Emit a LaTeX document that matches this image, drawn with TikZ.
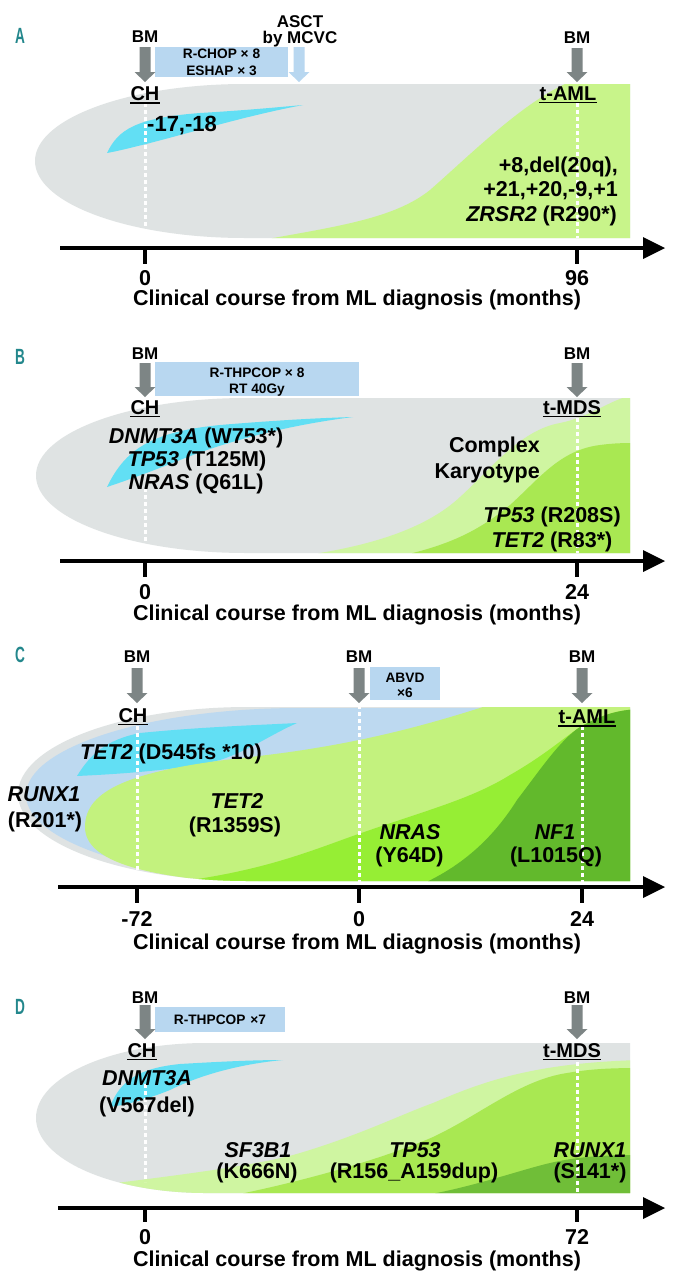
\documentclass[tikz,border=0pt]{standalone}
\usepackage{fontspec}
\setmainfont{Liberation Sans}
\definecolor{grayc}{HTML}{DFE3E3}
\definecolor{cyanc}{HTML}{62DFF4}
\definecolor{boxc}{HTML}{B8D7F0}
\definecolor{blueC}{HTML}{BDD9F0}
\definecolor{greenA}{HTML}{C8F48A}
\definecolor{lgreen}{HTML}{CFF5A1}
\definecolor{mgreen}{HTML}{A9E852}
\definecolor{cgreenL}{HTML}{C3F27E}
\definecolor{cgreenB}{HTML}{96EE34}
\definecolor{cgreenD}{HTML}{62B92C}
\definecolor{dgreenD}{HTML}{70BE38}
\definecolor{arrowc}{HTML}{7D8585}
\definecolor{tealc}{HTML}{23878C}
\newcommand\myblockarrow[4]{\fill[#4] ({#1-5.5},#2) -- ({#1+5.5},#2) -- ({#1+5.5},{#3-10}) -- ({#1+10.5},{#3-10}) -- (#1,#3) -- ({#1-10.5},{#3-10}) -- ({#1-5.5},{#3-10}) -- cycle;}
\newcommand\blobPA{(630,84) -- (245,84) .. controls (129,84) and (35,118.5) .. (35,161) .. controls (35,203.5) and (129,238) .. (245,238) -- (630,238) -- cycle}
\newcommand\blobPB{(630,398) -- (246,398) .. controls (130,398) and (36,432.7) .. (36,475.5) .. controls (36,518.3) and (130,553) .. (246,553) -- (630,553) -- cycle}
\newcommand\blobPC{(630,707) -- (248,707) .. controls (121,707) and (18,746) .. (18,794) .. controls (18,842) and (121,881) .. (248,881) -- (630,881) -- cycle}
\newcommand\blobPD{(630,1043) -- (206,1043) .. controls (112,1043) and (36,1076.6) .. (36,1118) .. controls (36,1159.4) and (112,1193) .. (206,1193) -- (630,1193) -- cycle}
\begin{document}
\begin{tikzpicture}[x=1pt,y=-1pt,
  lab/.style={inner sep=0pt, text depth=0pt, text height=15.4pt, font=\fontsize{21.5}{24}\selectfont\bfseries},
  labbig/.style={lab, text height=15.8pt, font=\fontsize{22}{24}\selectfont\bfseries},
  labbm/.style={lab, text height=12.2pt, font=\fontsize{17}{19}\selectfont\bfseries},
  labch/.style={lab, text height=14.3pt, font=\fontsize{20}{22}\selectfont\bfseries},
  labbox/.style={lab, text height=9.8pt, font=\fontsize{13.7}{15}\selectfont\bfseries},
  panel/.style={inner sep=0pt, text depth=0pt, text height=16pt, text=tealc, font=\fontsize{22}{24}\selectfont\bfseries},
  uline/.style={line width=1.8pt},
  dotline/.style={white, line width=3pt, dash pattern=on 4pt off 3pt},
  axisline/.style={line width=4pt},
  tickline/.style={line width=4pt},
]
\useasboundingbox[fill=white] (0,0) rectangle (674,1280);

% ================= Panel A =================
\node[panel] (pA) at (20,35) {\scalebox{0.62}[1]{A}};
\fill[grayc] \blobPA;
\begin{scope}
\clip \blobPA;
\fill[cyanc] (107,153) .. controls (118,130) and (135,118) .. (200,113) .. controls (250,110) and (280,107) .. (303,105) .. controls (250,115) and (200,130) .. (150,143) .. controls (130,148) and (118,151) .. (107,153) -- cycle;
\fill[greenA] (262,240) .. controls (340,226) and (395,218) .. (430,190) .. controls (470,155) and (520,105) .. (565,84) -- (640,80) -- (640,240) -- cycle;
\end{scope}
\draw[dotline] (145,103) -- (145,232);
\draw[dotline] (577,103) -- (577,238);
\fill[boxc] (155,47) rectangle (288,77);
\node[labbox] (bxA1) at (221.5,54) {R-CHOP × 8};
\node[labbox] (bxA2) at (221.5,70.5) {ESHAP × 3};
\node[labbm] (bmA1) at (145,36.5) {BM};
\myblockarrow{145}{47}{82}{arrowc}
\node[labbm] (asctA) at (300,21) {ASCT};
\node[labbm] (asctB) at (300,37) {by MCVC};
\myblockarrow{299}{47}{82}{boxc}
\node[labbm] (bmA2) at (577,37.5) {BM};
\myblockarrow{577}{48}{82}{arrowc}
\node[labch] (chA) at (145,93.5) {CH};
\draw[uline] ([yshift=-2.2pt]chA.south west) -- ([yshift=-2.2pt]chA.south east);
\node[labch] (tamlA) at (568,93) {t-AML};
\draw[uline] ([yshift=-2.2pt]tamlA.south west) -- ([yshift=-2.2pt]tamlA.south east);
\node[labbig, anchor=west] (kA0) at (147,124) {-17,-18};
\node[lab, anchor=east] (kA1) at (618,165) {+8,del(20q),};
\node[lab, anchor=east] (kA2) at (618,189) {+21,+20,-9,+1};
\node[lab, anchor=east] (kA3) at (617,214) {\textit{ZRSR2} (R290*)};
\draw[axisline] (60,248) -- (645,248);
\fill (643,237) -- (665,248) -- (643,259) -- cycle;
\draw[tickline] (145,248) -- (145,264);
\draw[tickline] (577,248) -- (577,264);
\node[lab] (tA0) at (145,278) {0};
\node[lab] (tA96) at (577,278) {96};
\node[lab] (capA) at (357,297.5) {Clinical course from ML diagnosis (months)};

% ================= Panel B =================
\node[panel] (pB) at (20,356) {\scalebox{0.62}[1]{B}};
\fill[grayc] \blobPB;
\begin{scope}
\clip \blobPB;
\fill[cyanc] (107,487) .. controls (125,450) and (150,432) .. (220,425) .. controls (280,420) and (320,418) .. (353,417) .. controls (290,425) and (230,440) .. (180,460) .. controls (150,472) and (125,481) .. (107,487) -- cycle;
\fill[lgreen] (300,556) .. controls (380,545) and (430,525) .. (460,497) .. controls (490,470) and (520,430) .. (560,423) .. controls (590,417) and (610,400) .. (630,396) -- (640,396) -- (640,556) -- cycle;
\fill[mgreen] (400,556) .. controls (450,545) and (480,530) .. (510,505) .. controls (540,478) and (560,450) .. (600,445) .. controls (615,443) and (625,443) .. (640,443) -- (640,556) -- cycle;
\end{scope}
\draw[dotline] (145,488) -- (145,545);
\draw[dotline] (577,418) -- (577,553);
\fill[boxc] (155,362) rectangle (359,396);
\node[labbox] (bxB1) at (257,373) {R-THPCOP × 8};
\node[labbox] (bxB2) at (257,389) {RT 40Gy};
\node[labbm] (bmB1) at (145,353) {BM};
\myblockarrow{145}{363}{397}{arrowc}
\node[labbm] (bmB2) at (577,353) {BM};
\myblockarrow{577}{363}{397}{arrowc}
\node[labch] (chB) at (145,407) {CH};
\draw[uline] ([yshift=-2.2pt]chB.south west) -- ([yshift=-2.2pt]chB.south east);
\node[labch] (tmdsB) at (572,407) {t-MDS};
\draw[uline] ([yshift=-2.2pt]tmdsB.south west) -- ([yshift=-2.2pt]tmdsB.south east);
\node[lab] (gB1) at (196,436) {\textit{DNMT3A} (W753*)};
\node[lab] (gB2) at (197,459) {\textit{TP53} (T125M)};
\node[lab] (gB3) at (196,482) {\textit{NRAS} (Q61L)};
\node[lab, anchor=east] (ckB1) at (540,445) {Complex};
\node[lab, anchor=east] (ckB2) at (540,470.5) {Karyotype};
\node[lab] (gB4) at (552,515) {\textit{TP53} (R208S)};
\node[lab] (gB5) at (552,540) {\textit{TET2} (R83*)};
\draw[axisline] (60,561) -- (645,561);
\fill (643,550) -- (665,561) -- (643,572) -- cycle;
\draw[tickline] (145,561) -- (145,577);
\draw[tickline] (577,561) -- (577,577);
\node[lab] (tB0) at (145,592) {0};
\node[lab] (tB24) at (577,592) {24};
\node[lab] (capB) at (357,613) {Clinical course from ML diagnosis (months)};

% ================= Panel C =================
\node[panel] (pC) at (20,654) {\scalebox{0.62}[1]{C}};
\fill[grayc] \blobPC;
\begin{scope}
\clip \blobPC;
\fill[blueC] (640,708) -- (300,708) .. controls (149,708) and (26,747.5) .. (26,795) .. controls (26,842.5) and (149,882) .. (300,882) -- (640,882) -- cycle;
\fill[cyanc] (77,776) .. controls (90,755) and (105,740) .. (140,733) .. controls (200,727) and (260,725) .. (297,723) .. controls (270,735) and (250,750) .. (220,760) .. controls (180,770) and (120,774) .. (77,776) -- cycle;
\fill[cgreenL] (85,827) .. controls (85,790) and (130,770) .. (250,757) .. controls (350,746) and (420,727) .. (483,707) -- (640,700) -- (640,890) -- (300,885) .. controls (140,882) and (85,860) .. (85,827) -- cycle;
\fill[cgreenB] (150,885) .. controls (250,875) and (300,855) .. (350,837) .. controls (420,812) and (470,800) .. (510,775) .. controls (545,755) and (565,737) .. (580,727) .. controls (600,716) and (615,710) .. (640,709) -- (640,890) -- cycle;
\fill[cgreenD] (420,885) .. controls (465,865) and (495,835) .. (517,800) .. controls (540,770) and (560,740) .. (580,727) .. controls (600,716) and (615,710) .. (640,709) -- (640,890) -- cycle;
\end{scope}
\draw[dotline] (137,726) -- (137,880);
\draw[dotline] (359,705) -- (359,882);
\draw[dotline] (582,726) -- (582,882);
\fill[boxc] (370,667) rectangle (440,700);
\node[labbox] (bxC1) at (405,677.5) {ABVD};
\node[labbox] (bxC2) at (405,692.5) {×6};
\node[labbm] (bmC1) at (137,656) {BM};
\myblockarrow{137}{668}{703}{arrowc}
\node[labbm] (bmC2) at (359,656) {BM};
\myblockarrow{359}{668}{703}{arrowc}
\node[labbm] (bmC3) at (582,656) {BM};
\myblockarrow{582}{668}{703}{arrowc}
\node[labch] (chC) at (133,715) {CH};
\draw[uline] ([yshift=-2.2pt]chC.south west) -- ([yshift=-2.2pt]chC.south east);
\node[labch] (tamlC) at (587,716.5) {t-AML};
\draw[uline] ([yshift=-2.2pt]tamlC.south west) -- ([yshift=-2.2pt]tamlC.south east);
\node[lab] (gC1) at (171,752) {\textit{TET2} (D545fs *10)};
\node[lab] (gC2) at (44,793.5) {\textit{RUNX1}};
\node[lab] (gC3) at (45,819.5) {(R201*)};
\node[lab] (gC4) at (237,800.5) {\textit{TET2}};
\node[lab] (gC5) at (235,825) {(R1359S)};
\node[lab] (gC6) at (410,832) {\textit{NRAS}};
\node[lab] (gC7) at (409.5,855) {(Y64D)};
\node[lab] (gC8) at (555,832) {\textit{NF1}};
\node[lab] (gC9) at (556,855) {(L1015Q)};
\draw[axisline] (58,887) -- (645,887);
\fill (643,876) -- (665,887) -- (643,898) -- cycle;
\draw[tickline] (137,887) -- (137,903);
\draw[tickline] (359,887) -- (359,903);
\draw[tickline] (582,887) -- (582,903);
\node[lab] (tCm72) at (137,919) {-72};
\node[lab] (tC0) at (359,919) {0};
\node[lab] (tC24) at (582,919) {24};
\node[lab] (capC) at (357,942) {Clinical course from ML diagnosis (months)};

% ================= Panel D =================
\node[panel] (pD) at (20,1006) {\scalebox{0.62}[1]{D}};
\fill[grayc] \blobPD;
\begin{scope}
\clip \blobPD;
\fill[cyanc] (110,1107) .. controls (120,1080) and (140,1068) .. (180,1064) .. controls (230,1061) and (260,1060) .. (283,1060) .. controls (240,1064) and (200,1075) .. (170,1090) .. controls (145,1100) and (125,1105) .. (110,1107) -- cycle;
\fill[lgreen] (100,1185) .. controls (180,1175) and (260,1165) .. (300,1153) .. controls (360,1135) and (400,1115) .. (433,1103) .. controls (480,1083) and (530,1063) .. (640,1060) -- (640,1200) -- (100,1200) -- cycle;
\fill[mgreen] (230,1196) .. controls (300,1182) and (380,1160) .. (433,1137) .. controls (480,1115) and (520,1080) .. (567,1073) .. controls (590,1069) and (610,1068) .. (640,1068) -- (640,1200) -- cycle;
\fill[dgreenD] (420,1196) .. controls (470,1188) and (520,1170) .. (550,1163) .. controls (580,1156) and (610,1155) .. (640,1155) -- (640,1200) -- cycle;
\end{scope}
\draw[dotline] (145,1084) -- (145,1182);
\draw[dotline] (577,1062) -- (577,1193);
\fill[boxc] (155,1007) rectangle (285,1032);
\node[labbox] (bxD1) at (220,1020) {R-THPCOP\hspace{5pt}×7};
\node[labbm] (bmD1) at (145,997) {BM};
\myblockarrow{145}{1005}{1039}{arrowc}
\node[labbm] (bmD2) at (577,997) {BM};
\myblockarrow{577}{1005}{1039}{arrowc}
\node[labch] (chD) at (142,1050) {CH};
\draw[uline] ([yshift=-2.2pt]chD.south west) -- ([yshift=-2.2pt]chD.south east);
\node[labch] (tmdsD) at (572,1050) {t-MDS};
\draw[uline] ([yshift=-2.2pt]tmdsD.south west) -- ([yshift=-2.2pt]tmdsD.south east);
\node[lab] (gD1) at (147,1078) {\textit{DNMT3A}};
\node[lab] (gD2) at (147,1105) {(V567del)};
\node[lab] (gD3) at (258,1150) {\textit{SF3B1}};
\node[lab] (gD4) at (257,1171) {(K666N)};
\node[lab] (gD5) at (415,1150) {\textit{TP53}};
\node[lab] (gD6) at (414,1171) {(R156\_A159dup)};
\node[lab] (gD7) at (590,1150) {\textit{RUNX1}};
\node[lab] (gD8) at (590,1171) {(S141*)};
\draw[axisline] (58,1208) -- (645,1208);
\fill (643,1197) -- (665,1208) -- (643,1219) -- cycle;
\draw[tickline] (145,1208) -- (145,1222);
\draw[tickline] (577,1208) -- (577,1222);
\node[lab] (tD0) at (145,1236.5) {0};
\node[lab] (tD72) at (577,1236.5) {72};
\node[lab] (capD) at (357,1259) {Clinical course from ML diagnosis (months)};
\end{tikzpicture}
\end{document}
